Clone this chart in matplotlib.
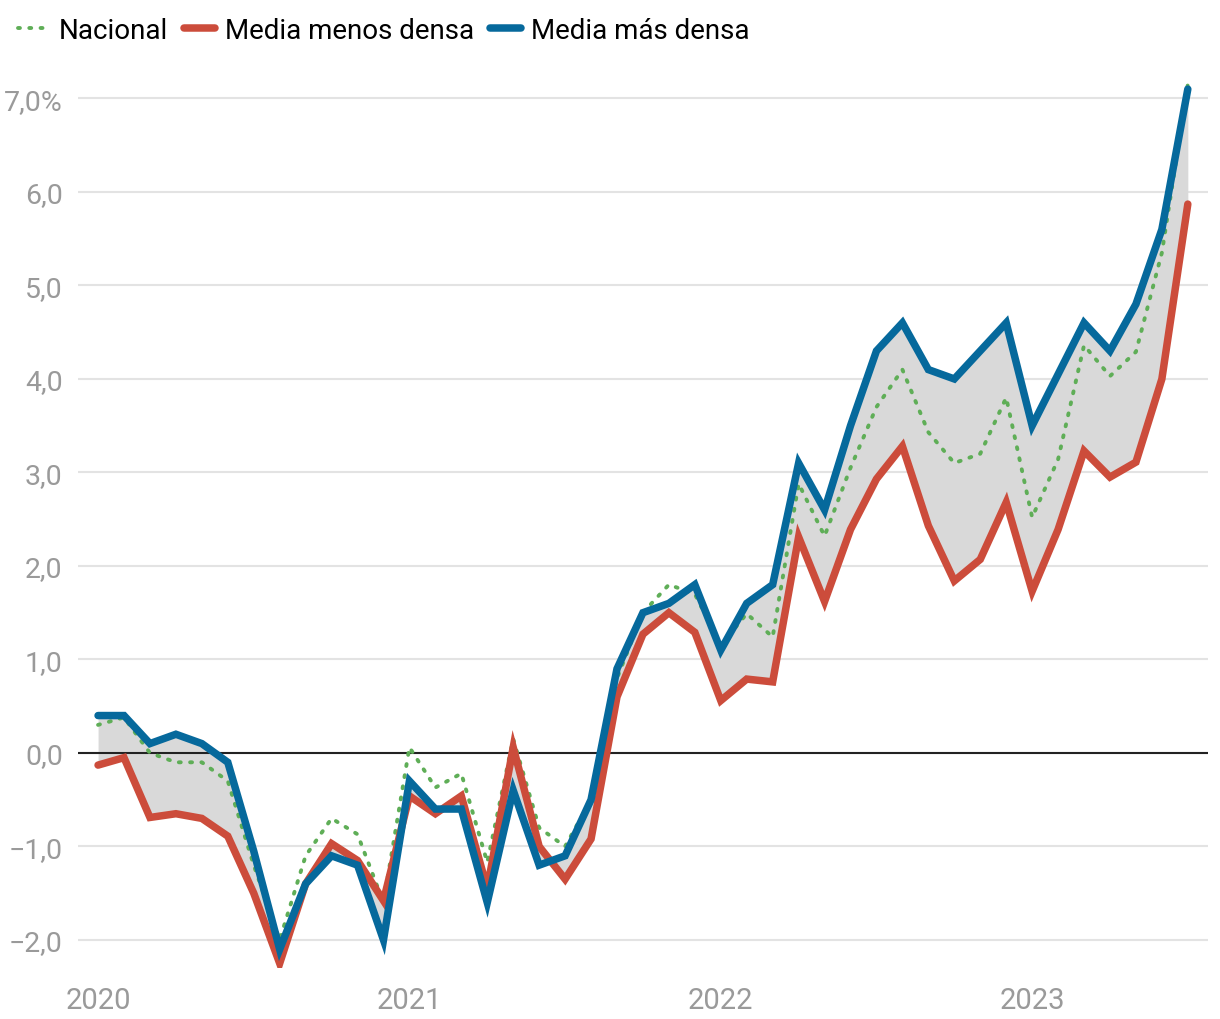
import numpy as np
import matplotlib
matplotlib.use("Agg")
import matplotlib.pyplot as plt
from matplotlib.lines import Line2D

# === Estilo ===
plt.rcParams["font.family"] = ["Liberation Sans Narrow", "Roboto", "DejaVu Sans"]
plt.rcParams["axes.unicode_minus"] = True

BLUE = "#06699c"
RED = "#cc4c3b"
GREEN = "#5fae57"
FILL = "#d9d9d9"
GRID = "#e3e3e3"
TICK = "#9a9a9a"

# === Datos (mensual, ene 2020 - jul 2023) ===
mas_densa = [0.40, 0.40, 0.10, 0.20, 0.10, -0.10, -1.05, -2.10, -1.40, -1.10,
             -1.20, -2.00, -0.30, -0.60, -0.60, -1.60, -0.40, -1.20, -1.10, -0.50,
             0.90, 1.50, 1.60, 1.80, 1.10, 1.60, 1.80, 3.10, 2.60, 3.50,
             4.30, 4.60, 4.10, 4.00, 4.30, 4.60, 3.50, 4.05, 4.60, 4.30,
             4.80, 5.60, 7.10]
menos_densa = [-0.13, -0.05, -0.69, -0.65, -0.70, -0.89, -1.50, -2.25, -1.40, -0.97,
               -1.15, -1.58, -0.46, -0.65, -0.46, -1.45, 0.06, -1.00, -1.35, -0.92,
               0.60, 1.27, 1.50, 1.29, 0.56, 0.79, 0.76, 2.31, 1.62, 2.39,
               2.93, 3.28, 2.43, 1.84, 2.07, 2.68, 1.73, 2.39, 3.23, 2.95,
               3.11, 4.00, 5.87]
nacional = [0.30, 0.38, 0.00, -0.10, -0.10, -0.30, -1.20, -2.00, -1.10, -0.70,
            -0.87, -1.60, 0.06, -0.37, -0.22, -1.17, 0.15, -0.80, -1.00, -0.50,
            0.80, 1.50, 1.80, 1.70, 1.15, 1.49, 1.24, 2.88, 2.32, 3.05,
            3.70, 4.10, 3.43, 3.10, 3.20, 3.80, 2.52, 3.14, 4.36, 4.03,
            4.29, 5.35, 7.15]
years = ["2020", "2021", "2022", "2023"]
y_ticks = [-2, -1, 0, 1, 2, 3, 4, 5, 6, 7]

x = np.arange(len(mas_densa))

fig = plt.figure(figsize=(12.2, 10.2), dpi=100)
ax = fig.add_axes([0.064, 0.050, 0.926, 0.880])

ax.fill_between(x, menos_densa, mas_densa, color=FILL, linewidth=0, zorder=1)
ax.plot(x, nacional, color=GREEN, linewidth=2.8, linestyle=(0, (0.5, 2.4)),
        dash_capstyle="round", zorder=3)
ax.plot(x, menos_densa, color=RED, linewidth=5.4, solid_joinstyle="miter",
        solid_capstyle="round", zorder=4)
ax.plot(x, mas_densa, color=BLUE, linewidth=5.4, solid_joinstyle="miter",
        solid_capstyle="round", zorder=5)

ax.axhline(0, color="#222222", linewidth=1.5, zorder=2)

# === Ejes ===
ax.set_xlim(-0.77, 42.77)
ax.set_ylim(-2.3, 7.3)
ax.set_yticks(y_ticks)
labels = []
for v in y_ticks:
    s = f"{abs(v)},0"
    if v < 0:
        s = "\u2212" + s
    if v == 7:
        s += "%"
    labels.append(s)
ax.set_yticklabels(labels)
ax.set_xticks([0, 12, 24, 36])
ax.set_xticklabels(years)
ax.tick_params(axis="y", length=0, pad=11, labelsize=20.5, labelcolor=TICK)
ax.tick_params(axis="x", length=0, pad=13, labelsize=21, labelcolor=TICK)

ax.grid(True, axis="y", color=GRID, linewidth=1.5, zorder=0)
ax.set_axisbelow(True)
for sp in ax.spines.values():
    sp.set_visible(False)

# === Leyenda ===
handles = [
    Line2D([], [], color=GREEN, linewidth=2.8, linestyle=(0, (0.5, 2.4)),
           dash_capstyle="round"),
    Line2D([], [], color=RED, linewidth=5.4, solid_capstyle="round"),
    Line2D([], [], color=BLUE, linewidth=5.4, solid_capstyle="round"),
]
fig.legend(handles, ["Nacional", "Media menos densa", "Media más densa"],
           loc="upper left", bbox_to_anchor=(0.0, 1.0), ncol=3, frameon=False,
           fontsize=20, handlelength=1.1, handletextpad=0.35, columnspacing=0.6,
           borderaxespad=0.25)

fig.savefig("out.png", dpi=100)
